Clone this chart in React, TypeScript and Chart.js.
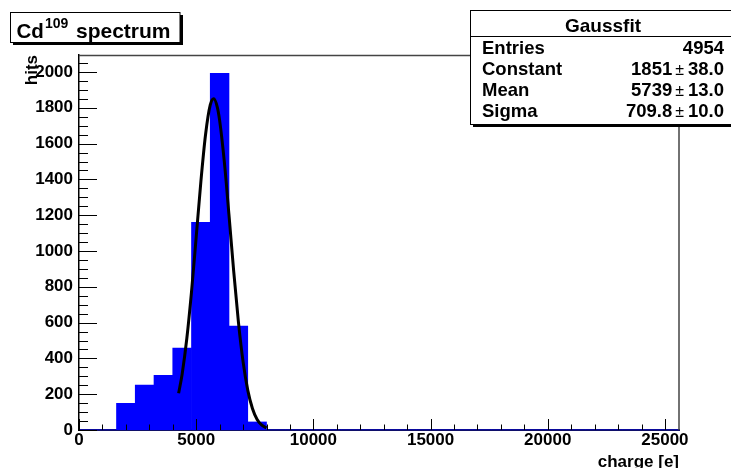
import React, { useEffect, useRef } from "react";
import { Chart, registerables } from "chart.js";

Chart.register(...registerables);

// ---- data ----
const binCenters = [
  400, 1200, 2000, 2800, 3600, 4400, 5200, 6000, 6800, 7600, 8400, 9200, 10000, 10800, 11600, 12400,
  13200, 14000, 14800, 15600, 16400, 17200, 18000, 18800, 19600, 20400, 21200, 22000, 22800, 23600, 24400, 25200,
];
const hits = [
  0, 0, 149, 251, 305, 458, 1160, 1993, 581, 45, 0, 0, 0, 0, 0, 0,
  0, 0, 0, 0, 0, 0, 0, 0, 0, 0, 0, 0, 0, 0, 0, 0,
];
const fitX = [4250, 4400, 4600, 4800, 5000, 5200, 5400, 5600, 5750, 5900, 6000, 6200, 6400, 6600, 6800, 7000, 7200, 7400, 7600, 7800, 8000];
const fitY = [205, 312, 511, 772, 1077, 1388, 1651, 1816, 1851, 1804, 1730, 1499, 1200, 887, 606, 382, 223, 120, 59, 27, 12];

const xTickValues = [0, 5000, 10000, 15000, 20000, 25000];
const yTickValues = [0, 200, 400, 600, 800, 1000, 1200, 1400, 1600, 1800, 2000];

const statTitle = "Gaussfit";
const statLabels = ["Entries", "Constant", "Mean", "Sigma"];
const statValues = ["4954", "1851", "5739", "709.8"];
const statErrors = ["", "38.0", "13.0", "10.0"];

const X_MAX = 25600;
const Y_MAX = 2095;
const FONT = '"Liberation Sans", Arial, Helvetica, sans-serif';

const decorPlugin = {
  id: "rootDecor",
  afterDatasetsDraw(chart: any) {
    const ctx = chart.ctx as CanvasRenderingContext2D;
    const xs = chart.scales.x;
    const ys = chart.scales.y;
    const { left, right, top, bottom } = chart.chartArea;
    ctx.save();
    // frame top & right
    ctx.strokeStyle = "#444";
    ctx.lineWidth = 1.5;
    ctx.beginPath();
    ctx.moveTo(left, top + 0.5);
    ctx.lineTo(right, top + 0.5);
    ctx.moveTo(right, top);
    ctx.lineTo(right, bottom);
    ctx.stroke();
    // ticks
    ctx.strokeStyle = "#000";
    ctx.lineWidth = 1;
    ctx.beginPath();
    for (let v = 0; v <= 25000; v += 1000) {
      const px = Math.round(xs.getPixelForValue(v)) + 0.5;
      const len = v % 5000 === 0 ? 11 : 5.5;
      ctx.moveTo(px, bottom);
      ctx.lineTo(px, bottom - len);
    }
    for (let v = 0; v <= 2050; v += 50) {
      const py = Math.round(ys.getPixelForValue(v)) + 0.5;
      const len = v % 200 === 0 ? 18 : 9;
      ctx.moveTo(left, py);
      ctx.lineTo(left + len, py);
    }
    ctx.stroke();
    ctx.restore();
  },
  afterDraw(chart: any) {
    const ctx = chart.ctx as CanvasRenderingContext2D;
    ctx.save();
    // ---- title box ----
    ctx.fillStyle = "#000";
    ctx.fillRect(13, 42, 170, 3);
    ctx.fillRect(180, 15, 3, 30);
    ctx.fillStyle = "#fff";
    ctx.fillRect(10, 12.5, 170, 30);
    ctx.strokeStyle = "#000";
    ctx.lineWidth = 1;
    ctx.strokeRect(10.5, 12.5, 169.5, 30);
    ctx.fillStyle = "#000";
    ctx.textBaseline = "alphabetic";
    ctx.textAlign = "left";
    ctx.font = `bold 20.5px ${FONT}`;
    ctx.fillText("Cd", 16.5, 37.5);
    ctx.font = `bold 14px ${FONT}`;
    ctx.fillText("109", 45, 27.5);
    ctx.font = `bold 21px ${FONT}`;
    ctx.fillText("spectrum", 76, 37.5);

    // ---- stats box ----
    const bx = 470, by = 10, bw = 270, bh = 114;
    ctx.fillStyle = "#000";
    ctx.fillRect(bx + 3, by + bh, bw, 3);
    ctx.fillStyle = "#fff";
    ctx.fillRect(bx, by, bw, bh);
    ctx.strokeStyle = "#000";
    ctx.lineWidth = 1;
    ctx.strokeRect(bx + 0.5, by + 0.5, bw, bh);
    ctx.beginPath();
    ctx.moveTo(bx, 36.5);
    ctx.lineTo(bx + bw, 36.5);
    ctx.stroke();
    ctx.fillStyle = "#000";
    ctx.font = `bold 19px ${FONT}`;
    ctx.textAlign = "center";
    ctx.fillText(statTitle, 603, 31.5);
    const baselines = [53.5, 75, 96, 117];
    const rightX = 724;
    statLabels.forEach((lab, i) => {
      const yb = baselines[i];
      ctx.font = `bold 18.5px ${FONT}`;
      ctx.textAlign = "left";
      ctx.fillText(lab, 482, yb);
      ctx.textAlign = "right";
      if (!statErrors[i]) {
        ctx.fillText(statValues[i], rightX, yb);
      } else {
        ctx.fillText(statErrors[i], rightX, yb);
        const ew = ctx.measureText(statErrors[i]).width;
        ctx.font = `16px ${FONT}`;
        const pmRight = rightX - ew - 4;
        ctx.fillText("\u00b1", pmRight, yb);
        const pw = ctx.measureText("\u00b1").width;
        ctx.font = `bold 18.5px ${FONT}`;
        ctx.fillText(statValues[i], pmRight - pw - 3, yb);
      }
    });
    ctx.restore();
  },
};

export default function App() {
  const ref = useRef<HTMLCanvasElement | null>(null);
  useEffect(() => {
    if (!ref.current) return;
    const tickFont = { family: FONT, size: 17, weight: "bold" as const };
    const chart = new Chart(ref.current, {
      type: "bar",
      data: {
        datasets: [
          {
            type: "line" as const,
            label: "fit",
            data: fitX.map((x, i) => ({ x, y: fitY[i] })),
            borderColor: "#000",
            borderWidth: 3,
            pointRadius: 0,
            cubicInterpolationMode: "monotone" as const,
            fill: false,
            order: 0,
          },
          {
            type: "bar" as const,
            label: "hits",
            data: binCenters.map((x, i) => ({ x, y: hits[i] })),
            backgroundColor: "#0000ff",
            borderWidth: 0,
            barPercentage: 1,
            categoryPercentage: 1,
            order: 1,
          },
        ],
      },
      options: {
        animation: false,
        responsive: false,
        devicePixelRatio: 1,
        layout: { padding: { top: 55, right: 52, left: 0, bottom: 0 } },
        plugins: { legend: { display: false }, title: { display: false }, tooltip: { enabled: false } },
        scales: {
          x: {
            type: "linear",
            offset: false,
            min: 0,
            max: X_MAX,
            afterBuildTicks: (s: any) => {
              s.ticks = xTickValues.map((v) => ({ value: v }));
            },
            afterFit: (s: any) => {
              s.height = 38;
            },
            ticks: {
              callback: (v: any) => String(v),
              font: tickFont,
              color: "#000",
              padding: 0,
              maxRotation: 0,
              autoSkip: false,
            },
            grid: { display: false, drawTicks: false, offset: false },
            border: { display: true, color: "#10106a", width: 2 },
            title: {
              display: true,
              text: "charge [e]",
              align: "end",
              color: "#000",
              font: tickFont,
              padding: { top: 0, bottom: -5 },
            },
          },
          y: {
            type: "linear",
            min: 0,
            max: Y_MAX,
            afterBuildTicks: (s: any) => {
              s.ticks = yTickValues.map((v) => ({ value: v }));
            },
            afterFit: (s: any) => {
              s.width = 79;
            },
            ticks: {
              callback: (v: any) => String(v),
              font: tickFont,
              color: "#000",
              padding: 6,
            },
            grid: { display: false, drawTicks: false },
            border: { display: true, color: "#000", width: 1.5 },
            title: {
              display: true,
              text: "hits",
              align: "end",
              color: "#000",
              font: tickFont,
              padding: { top: 22, bottom: 0 },
            },
          },
        },
      },
      plugins: [decorPlugin],
    } as any);
    return () => chart.destroy();
  }, []);
  return (
    <div style={{ position: "fixed", left: 0, top: 0, width: 731, height: 468, background: "#fff" }}>
      <canvas ref={ref} width={731} height={468} style={{ display: "block" }} />
    </div>
  );
}
